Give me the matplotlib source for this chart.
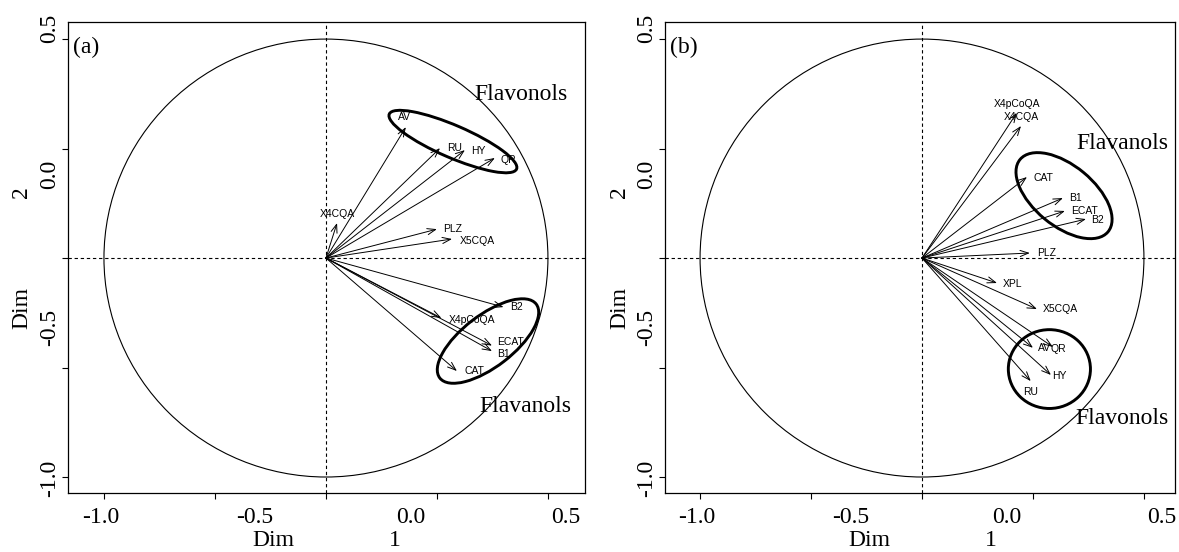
import matplotlib
matplotlib.use("Agg")
import matplotlib.pyplot as plt
from matplotlib.patches import Circle, Ellipse
from matplotlib.transforms import blended_transform_factory

# panel (a) variables: arrow tips and label centres
vars_a = ["AV", "RU", "HY", "QR", "X4CQA", "PLZ", "X5CQA",
          "B2", "X4pCoQA", "ECAT", "B1", "CAT"]
x_a = [0.36, 0.514, 0.626, 0.761, 0.05, 0.50, 0.568,
       0.80, 0.52, 0.748, 0.748, 0.59]
y_a = [0.598, 0.502, 0.493, 0.457, 0.16, 0.132, 0.087,
       -0.224, -0.274, -0.40, -0.425, -0.516]
labx_a = [0.356, 0.58, 0.685, 0.82, 0.05, 0.572, 0.68,
          0.86, 0.658, 0.83, 0.80, 0.667]
laby_a = [0.644, 0.502, 0.489, 0.447, 0.20, 0.132, 0.078,
          -0.224, -0.283, -0.384, -0.438, -0.516]

# panel (b)
vars_b = ["X4pCoQA", "X4CQA", "CAT", "B1", "ECAT", "B2", "PLZ",
          "XPL", "X5CQA", "AV", "QR", "HY", "RU"]
x_b = [0.427, 0.446, 0.473, 0.635, 0.644, 0.739, 0.486,
       0.338, 0.518, 0.50, 0.59, 0.581, 0.49]
y_b = [0.663, 0.603, 0.37, 0.274, 0.215, 0.178, 0.023,
       -0.114, -0.233, -0.41, -0.406, -0.534, -0.562]
labx_b = [0.428, 0.446, 0.545, 0.69, 0.734, 0.793, 0.563,
          0.41, 0.622, 0.554, 0.613, 0.617, 0.49]
laby_b = [0.703, 0.644, 0.365, 0.274, 0.215, 0.174, 0.023,
          -0.119, -0.233, -0.41, -0.416, -0.539, -0.612]

# group ellipses: centre x, centre y, width, height, angle
ell_a = [(0.572, 0.532, 0.626, 0.147, -23.7), (0.73, -0.379, 0.55, 0.235, 38)]
ell_b = [(0.64, 0.285, 0.516, 0.275, -40), (0.574, -0.507, 0.37, 0.36, 0)]

# group names: x, baseline y, text
grp_a = [(0.878, 0.721, "Flavonols"), (0.90, -0.703, "Flavanols")]
grp_b = [(0.905, 0.498, "Flavanols"), (0.90, -0.758, "Flavonols")]

tick_pos = [-1.0, -0.5, 0.0, 0.5, 1.0]
xlab_pos = [-1.013, -0.32, 0.383, 1.08]
ylab_pos = [-1.005, -0.315, 0.38, 1.05]
tick_txt = ["-1.0", "-0.5", "0.0", "0.5"]

serif = "Liberation Serif"
sans = "Liberation Sans"

fig = plt.figure(figsize=(11.79, 5.52), dpi=100)
W, H = 1179, 552


def panel(rect, xlim, tag, names, xs, ys, lx, ly, ells, grps):
    ax = fig.add_axes(rect)
    ax.set_xlim(*xlim)
    ax.set_ylim(-1.073, 1.078)
    for s in ax.spines.values():
        s.set_linewidth(0.9)

    ax.add_patch(Circle((0, 0), 1, fill=False, lw=0.8, color="black"))
    ax.axhline(0, color="black", lw=0.8, ls=(0, (3, 2.5)))
    ax.axvline(0, color="black", lw=0.8, ls=(0, (3, 2.5)))

    for n, x, y, tx, ty in zip(names, xs, ys, lx, ly):
        ax.annotate("", xy=(x, y), xytext=(0, 0),
                    arrowprops=dict(arrowstyle="->,head_length=0.6,head_width=0.22",
                                    lw=0.7, color="black", shrinkA=0, shrinkB=0))
        ax.text(tx, ty, n, fontsize=7.5, family=sans, ha="center", va="center")

    for cx, cy, w, h, a in ells:
        ax.add_patch(Ellipse((cx, cy), w, h, angle=a, fill=False, lw=2.1, color="black"))
    for gx, gy, g in grps:
        ax.text(gx, gy, g, fontsize=17, family=serif, ha="center", va="baseline")

    ax.set_xticks(tick_pos)
    ax.set_yticks(tick_pos)
    ax.set_xticklabels([])
    ax.set_yticklabels([])
    ax.tick_params(which="major", length=4, width=0.8, direction="out")
    ax.set_xticks(xlab_pos, tick_txt, minor=True)
    ax.set_yticks(ylab_pos, tick_txt, minor=True)
    ax.tick_params(which="minor", length=0, labelsize=17)
    ax.tick_params(axis="x", which="minor", pad=10)
    ax.tick_params(axis="y", which="minor", pad=6, labelrotation=90)
    for t in ax.get_xticklabels(minor=True) + ax.get_yticklabels(minor=True):
        t.set_family(serif)
    for t in ax.get_yticklabels(minor=True):
        t.set_va("center")

    tx = blended_transform_factory(ax.transData, ax.transAxes)
    ty = blended_transform_factory(ax.transAxes, ax.transData)
    ax.text(-0.238, -0.10, "Dim", transform=tx, fontsize=17, family=serif,
            ha="center", va="center")
    ax.text(0.31, -0.10, "1", transform=tx, fontsize=17, family=serif,
            ha="center", va="center")
    ax.text(-0.089, -0.228, "Dim", transform=ty, fontsize=17, family=serif,
            ha="center", va="center", rotation=90)
    ax.text(-0.089, 0.30, "2", transform=ty, fontsize=17, family=serif,
            ha="center", va="center", rotation=90)
    ax.text(0.01, 0.947, tag, transform=ax.transAxes, fontsize=17, family=serif,
            ha="left", va="center")
    return ax


panel([68 / W, 1 - 493 / H, 517 / W, 471 / H], (-1.162, 1.167), "(a)",
      vars_a, x_a, y_a, labx_a, laby_a, ell_a, grp_a)
panel([665 / W, 1 - 493 / H, 510 / W, 471 / H], (-1.158, 1.14), "(b)",
      vars_b, x_b, y_b, labx_b, laby_b, ell_b, grp_b)

fig.savefig("out.png", dpi=100)
